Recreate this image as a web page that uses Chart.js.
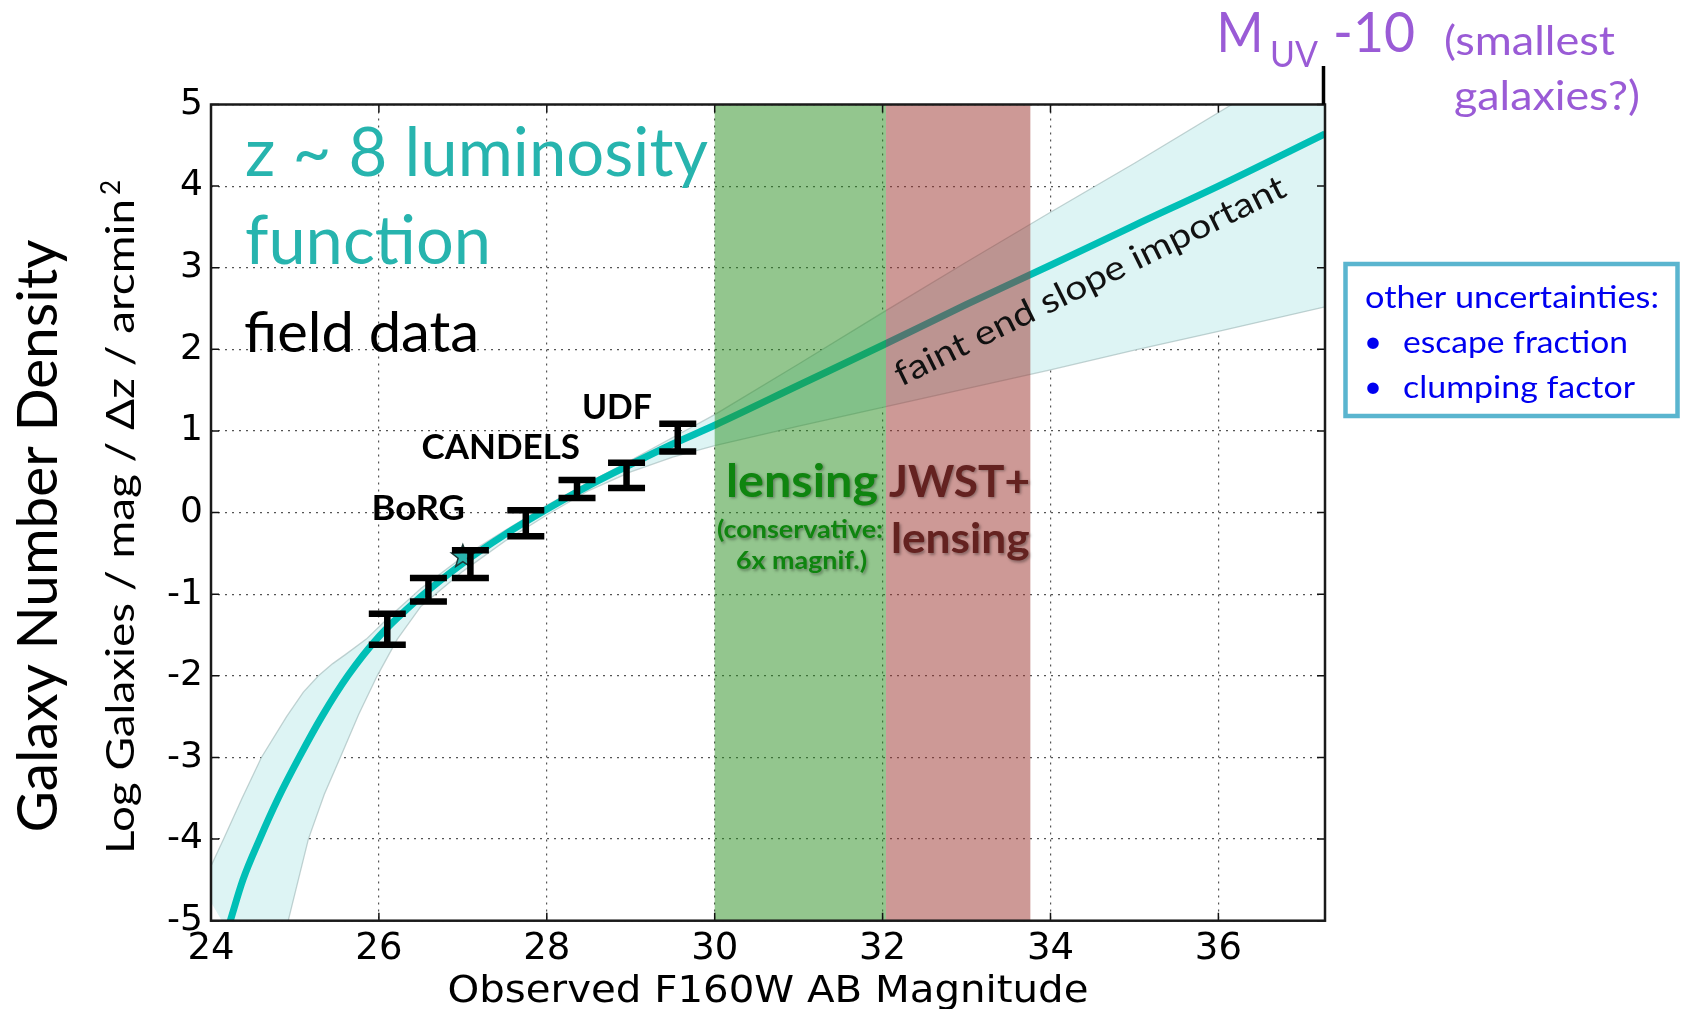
<!DOCTYPE html>
<html><head><meta charset="utf-8">
<script src="https://cdn.jsdelivr.net/npm/chart.js@4"></script>
<style>html,body{margin:0;padding:0;background:#fff;}canvas{display:block;}</style>
</head><body>
<canvas id="c" width="1685" height="1009"></canvas>
<script>
// ---------------- data ----------------
const xTicks = [24, 26, 28, 30, 32, 34, 36];
const yTicks = [-5, -4, -3, -2, -1, 0, 1, 2, 3, 4, 5];
const xMin = 24, xMax = 37.27, yMin = -5, yMax = 5;

// best-fit luminosity function (observed mag, log density)
const fitX = [24.11, 24.23, 24.38, 24.58, 24.80, 25.05, 25.32, 25.63, 26.0, 26.5, 27.0, 27.5, 28.0, 28.5, 29.0, 29.5, 30.0, 31.0, 32.0, 33.0, 34.0, 35.0, 36.0, 37.27];
const fitY = [-5.4, -5.0, -4.5, -4.0, -3.5, -3.0, -2.5, -2.0, -1.52, -1.03, -0.62, -0.27, 0.04, 0.33, 0.59, 0.84, 1.07, 1.56, 2.05, 2.55, 3.03, 3.52, 4.0, 4.64];

// uncertainty band edges
const bandUpX = [23.9, 24.0, 24.15, 24.37, 24.6, 24.9, 25.1, 25.28, 25.45, 25.6, 25.85, 26.1, 26.5, 27.0, 27.5, 28.0, 28.5, 29.0, 29.5, 30.0, 31.0, 32.0, 33.0, 34.0, 35.0, 36.16, 37.27];
const bandUpY = [-4.6, -4.33, -4.0, -3.5, -3.0, -2.5, -2.2, -2.0, -1.85, -1.74, -1.55, -1.3, -0.93, -0.54, -0.22, 0.09, 0.37, 0.64, 0.92, 1.2, 1.82, 2.45, 3.07, 3.68, 4.28, 5.0, 5.69];
const bandLoX = [24.70, 24.92, 25.16, 25.35, 25.54, 25.76, 25.98, 26.22, 26.5, 27.0, 27.5, 28.0, 28.5, 29.0, 29.5, 30.0, 31.0, 32.0, 33.0, 34.0, 35.0, 36.0, 37.27];
const bandLoY = [-6.0, -5.0, -4.0, -3.45, -3.0, -2.47, -2.0, -1.55, -1.15, -0.72, -0.35, -0.03, 0.27, 0.50, 0.68, 0.82, 1.06, 1.29, 1.52, 1.75, 1.99, 2.22, 2.52];

// field data points with error bars
const barX  = [26.10, 26.59, 27.09, 27.75, 28.36, 28.95, 29.56];
const barHi = [-1.24, -0.80, -0.46, 0.03, 0.40, 0.61, 1.09];
const barLo = [-1.62, -1.09, -0.80, -0.29, 0.18, 0.30, 0.75];
const starX = [27.0], starY = [-0.54];

// shaded magnitude ranges
const lensRange = [30.0, 32.04];
const jwstRange = [32.04, 33.76];

// ---------------- build ----------------
const fitData = fitX.map((x, i) => ({x, y: fitY[i]}));
const bandPoly = bandUpX.map((x, i) => ({x, y: bandUpY[i]}))
  .concat(bandLoX.map((x, i) => ({x, y: bandLoY[i]})).reverse());

function txt(ctx, s, x, y, o) {
  ctx.save();
  ctx.font = o.font;
  ctx.fillStyle = o.color || '#000';
  ctx.textBaseline = 'alphabetic';
  ctx.textAlign = 'left';
  if (o.shadow) { ctx.shadowColor = 'rgba(0,0,0,0.35)'; ctx.shadowBlur = 3; ctx.shadowOffsetX = 1.5; ctx.shadowOffsetY = 1.5; }
  ctx.translate(x, y);
  if (o.angle) ctx.rotate(o.angle * Math.PI / 180);
  const w = ctx.measureText(s).width;
  const sx = o.width ? o.width / w : 1;
  ctx.scale(sx, 1);
  const al = o.align || 'left';
  const ox = al === 'left' ? 0 : al === 'center' ? -w / 2 : -w;
  ctx.fillText(s, ox, 0);
  ctx.restore();
}

const deco = {
  id: 'deco',
  afterDatasetsDraw(chart) {
    const {ctx, chartArea: a, scales: {x, y}} = chart;
    ctx.save();
    // star marker
    starX.forEach((sx, i) => {
      const cx = x.getPixelForValue(sx), cy = y.getPixelForValue(starY[i]);
      ctx.beginPath();
      for (let k = 0; k < 10; k++) {
        const r = k % 2 ? 5 : 12;
        const ang = -Math.PI / 2 + k * Math.PI / 5;
        const px = cx + r * Math.cos(ang), py = cy + r * Math.sin(ang);
        k ? ctx.lineTo(px, py) : ctx.moveTo(px, py);
      }
      ctx.closePath();
      ctx.fillStyle = '#2ab4ae'; ctx.fill();
      ctx.strokeStyle = '#1c3836'; ctx.lineWidth = 1.5; ctx.stroke();
    });
    // error bars
    ctx.strokeStyle = '#000'; ctx.lineWidth = 6.5; ctx.lineCap = 'butt';
    barX.forEach((bx, i) => {
      const px = x.getPixelForValue(bx);
      const pt = y.getPixelForValue(barHi[i]), pb = y.getPixelForValue(barLo[i]);
      ctx.beginPath();
      ctx.moveTo(px, pt); ctx.lineTo(px, pb);
      ctx.moveTo(px - 18.5, pt); ctx.lineTo(px + 18.5, pt);
      ctx.moveTo(px - 18.5, pb); ctx.lineTo(px + 18.5, pb);
      ctx.stroke();
    });
    // shaded ranges
    const shade = (r, col) => {
      const l = x.getPixelForValue(r[0]), rr = x.getPixelForValue(r[1]);
      ctx.fillStyle = col; ctx.fillRect(l, a.top, rr - l, a.bottom - a.top);
    };
    shade(lensRange, 'rgba(39,141,29,0.5)');
    shade(jwstRange, 'rgba(155,51,45,0.5)');
    // inward ticks
    ctx.strokeStyle = '#111'; ctx.lineWidth = 1.5;
    ctx.beginPath();
    xTicks.forEach(v => {
      const p = x.getPixelForValue(v);
      ctx.moveTo(p, a.bottom); ctx.lineTo(p, a.bottom - 8);
      ctx.moveTo(p, a.top); ctx.lineTo(p, a.top + 8);
    });
    yTicks.forEach(v => {
      const p = y.getPixelForValue(v);
      ctx.moveTo(a.left, p); ctx.lineTo(a.left + 8, p);
      ctx.moveTo(a.right, p); ctx.lineTo(a.right - 8, p);
    });
    ctx.stroke();
    // frame
    ctx.strokeStyle = '#1a1a1a'; ctx.lineWidth = 2.5;
    ctx.strokeRect(a.left, a.top, a.right - a.left, a.bottom - a.top);
    // M_UV marker
    ctx.lineWidth = 3.5; ctx.strokeStyle = '#000';
    ctx.beginPath(); ctx.moveTo(a.right - 1.5, a.top); ctx.lineTo(a.right - 1.5, 66); ctx.stroke();
    ctx.restore();

    // texts
    const teal = '#27b4ae', green = '#0f850f', dred = '#642220';
    txt(ctx, 'z ~ 8 luminosity', 245, 176, {font: '67px Lato', color: teal, width: 463});
    txt(ctx, 'function', 245, 264, {font: '67px Lato', color: teal, width: 246});
    txt(ctx, 'field data', 244, 351.5, {font: '56px Lato', color: '#000', width: 235});
    txt(ctx, 'BoRG', 371.5, 520, {font: 'bold 35px Lato', width: 93.5});
    txt(ctx, 'CANDELS', 421.5, 458.5, {font: 'bold 35px Lato', width: 158.5});
    txt(ctx, 'UDF', 582, 418.5, {font: 'bold 35px Lato', width: 70});
    txt(ctx, 'lensing', 726, 496.5, {font: 'bold 46px Lato', color: green, width: 152, shadow: true});
    txt(ctx, '(conservative:', 717, 538, {font: 'bold 25px Lato', color: green, width: 166, shadow: true});
    txt(ctx, '6x magnif.)', 736, 569, {font: 'bold 25px Lato', color: green, width: 131, shadow: true});
    txt(ctx, 'JWST+', 889, 496.5, {font: 'bold 44px Lato', color: dred, width: 141, shadow: true});
    txt(ctx, 'lensing', 891, 553, {font: 'bold 42px Lato', color: dred, width: 138.5, shadow: true});
    txt(ctx, 'faint end slope important', 1095, 291, {font: '34px Lato', color: '#111', width: 432, align: 'center', angle: -26.3});
  },
  afterDraw(chart) {
    const ctx = chart.ctx;
    const purple = '#9a5bd6', blue = '#0000f0';
    txt(ctx, 'M', 1216.5, 51.5, {font: '57px Lato', color: purple, width: 47});
    txt(ctx, 'UV', 1270, 66.5, {font: '37px Lato', color: purple, width: 48});
    txt(ctx, '-10', 1333, 51.5, {font: '57px Lato', color: purple, width: 82});
    txt(ctx, '(smallest', 1444, 55, {font: '40px Lato', color: purple, width: 171});
    txt(ctx, 'galaxies?)', 1454, 110, {font: '40px Lato', color: purple, width: 186});
    // box
    ctx.save();
    ctx.strokeStyle = '#5ab5cf'; ctx.lineWidth = 4.5;
    ctx.strokeRect(1345.5, 264, 332, 152);
    ctx.restore();
    txt(ctx, 'other uncertainties:', 1365, 307.5, {font: '31px Lato', color: blue, width: 294});
    txt(ctx, '\u2022', 1364, 352, {font: '31px Lato', color: blue});
    txt(ctx, 'escape fraction', 1403, 353, {font: '31px Lato', color: blue, width: 225});
    txt(ctx, '\u2022', 1364, 397, {font: '31px Lato', color: blue});
    txt(ctx, 'clumping factor', 1403, 398, {font: '31px Lato', color: blue, width: 232});
    // axis titles
    txt(ctx, 'Observed F160W AB Magnitude', 768, 1002, {font: '38px "DejaVu Sans"', color: '#000', width: 641, align: 'center'});
    txt(ctx, 'Galaxy Number Density', 57, 536, {font: '56px Lato', color: '#000', width: 593, align: 'center', angle: -90});
    txt(ctx, 'Log Galaxies / mag / \u0394z / arcmin', 134, 854, {font: '39px Lato', color: '#000', width: 655, angle: -90});
    txt(ctx, '2', 120, 195, {font: '26px Lato', color: '#000', angle: -90});
  }
};

Chart.defaults.font.family = '"DejaVu Sans", sans-serif';
Chart.defaults.color = '#000';

new Chart(document.getElementById('c'), {
  type: 'line',
  data: {
    datasets: [
      {
        label: 'fit', data: fitData, borderColor: '#00bfb6', borderWidth: 7,
        pointRadius: 0, fill: false, cubicInterpolationMode: 'monotone', clip: 0, order: 0
      },
      {
        label: 'band', data: bandPoly, borderColor: 'rgba(150,175,175,0.55)', borderWidth: 1.3,
        backgroundColor: '#ddf4f4', pointRadius: 0, fill: 'shape', tension: 0, clip: 0, order: 1
      }
    ]
  },
  options: {
    responsive: false, animation: false, events: [],
    layout: {padding: {left: 0, top: 104.5, right: 360, bottom: 0}},
    plugins: {legend: {display: false}, tooltip: {enabled: false}, title: {display: false}},
    scales: {
      x: {
        type: 'linear', min: xMin, max: xMax,
        afterBuildTicks: s => { s.ticks = xTicks.map(v => ({value: v})); },
        afterFit: s => { s.height = 1009 - 920.7; },
        ticks: {autoSkip: false, maxRotation: 0, padding: 6, font: {size: 37}, color: '#000'},
        grid: {color: '#555', lineWidth: 1.2, drawTicks: false},
        border: {display: false, dash: [2, 5]}
      },
      y: {
        type: 'linear', min: yMin, max: yMax,
        afterBuildTicks: s => { s.ticks = yTicks.map(v => ({value: v})); },
        afterFit: s => { s.width = 211; },
        ticks: {autoSkip: false, padding: 8, font: {size: 36}, color: '#000'},
        grid: {color: '#555', lineWidth: 1.2, drawTicks: false},
        border: {display: false, dash: [2, 5]}
      }
    }
  },
  plugins: [deco]
});
</script>
</body></html>
